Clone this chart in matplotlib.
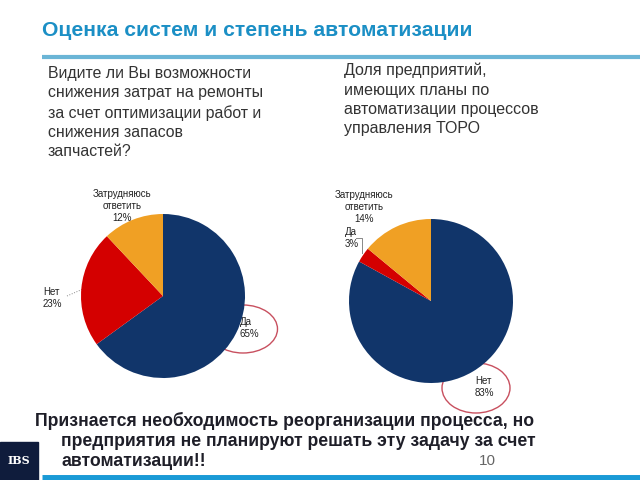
import matplotlib
matplotlib.use('Agg')
import matplotlib.pyplot as plt
from matplotlib.patches import Ellipse, Rectangle

plt.rcParams['font.family'] = ['Liberation Sans', 'DejaVu Sans']

# данные
left_labels = ['Да', 'Нет', 'Затрудняюсь\nответить']
left_values = [65, 23, 12]
right_labels = ['Нет', 'Да', 'Затрудняюсь\nответить']
right_values = [83, 3, 14]

navy = '#11356a'
red = '#d40000'
orange = '#f0a024'
left_colors = [navy, red, orange]
right_colors = [navy, red, orange]

title = 'Оценка систем и степень автоматизации'
left_question = ('Видите ли Вы возможности\nснижения затрат на ремонты\n'
                 'за счет оптимизации работ и\nснижения запасов\nзапчастей?')
right_question = ('Доля предприятий,\nимеющих планы по\n'
                  'автоматизации процессов\nуправления ТОРО')
conclusion = ['Признается необходимость реорганизации процесса, но',
              'предприятия не планируют решать эту задачу за счет',
              'автоматизации!!']

W, H = 640, 480
fig = plt.figure(figsize=(6.4, 4.8), dpi=100)

# фоновая ось в пикселях для текста и оформления
bg = fig.add_axes([0, 0, 1, 1])
bg.set_xlim(0, W)
bg.set_ylim(H, 0)
bg.axis('off')

bg.text(42, 30, title, fontsize=15.2, fontweight='bold', color='#1b8fc5', va='center')
bg.plot([42, W], [57, 57], color='#6bb5d6', lw=3, solid_capstyle='butt')

bg.text(48, 66, left_question, fontsize=11.4, color='#333333', va='top', linespacing=1.36)
bg.text(344, 63, right_question, fontsize=11.5, color='#333333', va='top', linespacing=1.36)

# вывод внизу: первая строка с выступом, остальные с отступом
for i, (line, x) in enumerate(zip(conclusion, [35, 61, 61])):
    bg.text(x, 421 + i * 20.5, line, fontsize=12.7, fontweight='bold', color='#1e1e28',
            va='center')
bg.text(487, 461, '10', fontsize=11, color='#666666', ha='center', va='center')

bg.add_patch(Rectangle((0, 442), 38, 38, color='#0f1c3c'))
bg.text(19, 461, 'IBS', fontsize=8, fontweight='bold', color='white', family='DejaVu Serif',
        ha='center', va='center')
bg.plot([42, W], [478, 478], color='#1a9ad6', lw=5, solid_capstyle='butt')


def add_pie(cx, cy, r, values, colors):
    ax = fig.add_axes([(cx - r) / W, (H - cy - r) / H, 2 * r / W, 2 * r / H])
    ax.pie(values, colors=colors, startangle=90, counterclock=False,
           wedgeprops=dict(linewidth=0))
    ax.set_xlim(-1, 1)
    ax.set_ylim(-1, 1)
    ax.set_aspect('auto')
    ax.axis('off')
    return ax


add_pie(163, 296, 82, left_values, left_colors)
add_pie(431, 301, 82, right_values, right_colors)

lab = dict(fontsize=7, color='#222222', linespacing=1.25)

# подписи левой диаграммы
bg.text(122, 206, f'{left_labels[2]}\n{left_values[2]}%', ha='center', va='center', **lab)
bg.text(43, 298, f'{left_labels[1]}\n{left_values[1]}%', ha='left', va='center', **lab)
bg.plot([67, 83], [296, 289], color='#888888', lw=0.7, ls=':')
bg.text(240, 328, f'{left_labels[0]}\n{left_values[0]}%', ha='left', va='center', zorder=5,
        **lab)

# подписи правой диаграммы
bg.text(364, 207, f'{right_labels[2]}\n{right_values[2]}%', ha='center', va='center', **lab)
bg.text(345, 238, f'{right_labels[1]}\n{right_values[1]}%', ha='left', va='center', **lab)
bg.plot([356, 362, 362], [238, 238, 253], color='#888888', lw=0.7)
bg.text(475, 387, f'{right_labels[0]}\n{right_values[0]}%', ha='left', va='center', zorder=5,
        **lab)

# красные овалы
bg.add_patch(Ellipse((243, 329), 69, 48, fill=False, ec='#c8505f', lw=1, zorder=6))
bg.add_patch(Ellipse((476, 388), 68, 50, fill=False, ec='#c8505f', lw=1, zorder=6))

fig.savefig('out.png', dpi=100)
